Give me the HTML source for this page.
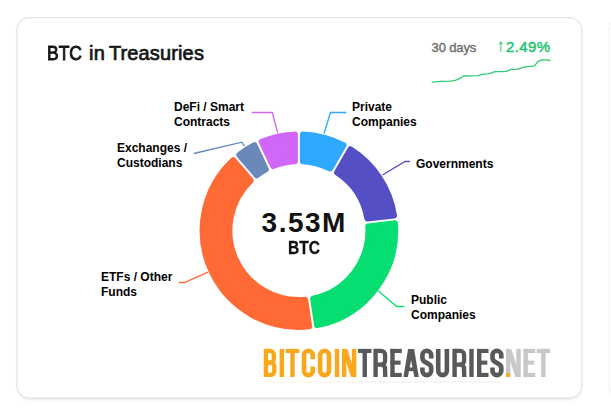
<!DOCTYPE html>
<html>
<head>
<meta charset="utf-8">
<title>BTC in Treasuries</title>
<style>
html,body{margin:0;padding:0;background:#fff;}
body{width:611px;height:416px;position:relative;overflow:hidden;font-family:"Liberation Sans",sans-serif;}
.t{position:absolute;white-space:nowrap;line-height:1;z-index:2;}
.title{top:43px;font-size:20px;color:#161616;-webkit-text-stroke:0.7px #161616;}
.days{left:431.6px;top:40.7px;font-size:13px;color:#6e6e6e;-webkit-text-stroke:0.4px #6e6e6e;letter-spacing:-0.15px;}
.pct{left:506px;top:38.8px;font-size:15px;color:#1bc470;-webkit-text-stroke:0.45px #1bc470;letter-spacing:0.42px;}
.lbl{font-weight:bold;font-size:12px;line-height:15px;color:#000;}
.big{left:261.6px;top:209.2px;font-size:28px;font-weight:bold;color:#111;letter-spacing:1.5px;}
.btc{left:288px;top:240.2px;font-size:17.5px;font-weight:bold;color:#111;-webkit-text-stroke:0.3px #111;transform-origin:0 0;transform:scaleX(0.885);}
svg{position:absolute;left:0;top:0;}
</style>
</head>
<body>
<div class="t title" style="left:46.9px;transform-origin:0 0;transform:scaleX(0.875);-webkit-text-stroke-width:0.95px">BTC</div>
<div class="t title" style="left:88.9px;letter-spacing:0.3px">in</div>
<div class="t title" style="left:108.9px;letter-spacing:0.14px">Treasuries</div>
<div class="t days">30 days</div>
<div class="t pct">2.49%</div>

<svg width="611" height="416" viewBox="0 0 611 416">
<defs><filter id="sh" x="-5%" y="-5%" width="110%" height="112%"><feGaussianBlur stdDeviation="1.6"/></filter></defs>
<rect x="17.4" y="19.6" width="564" height="380" rx="12.5" fill="#000" opacity="0.09" filter="url(#sh)"/>
<rect x="16.9" y="17.6" width="565" height="380.5" rx="12.5" fill="#fff" stroke="#e4e4e4" stroke-width="1.15"/>
<rect x="609" y="17.6" width="100" height="380.5" rx="12.5" fill="#fff" stroke="#f0f0f0" stroke-width="1.1"/>
<polyline points="432.2,82.1 440.6,81.4 451,81.2 455.2,80.4 459.4,78.7 463.6,76.0 469.9,75.8 478.3,75.6 482.9,74.1 487.7,73.9 490.9,73.1 495,71.6 501.3,71.6 506.6,71.4 510.8,69.3 518.1,69.1 522.3,67.6 526.5,66.6 533.8,66.2 535.9,64.1 538,61.3 542.2,59.9 546.4,59.9 550.1,60.5" fill="none" stroke="#2ecc71" stroke-width="1.3" stroke-linejoin="round" stroke-linecap="round"/>
<path d="M302.90 134.38A96.30 96.30 0 0 1 343.54 145.27L330.13 168.51A69.50 69.50 0 0 0 302.90 161.22Z" fill="#2EA9FF" stroke="#2EA9FF" stroke-width="6.0" stroke-linejoin="round"/>
<path d="M350.47 149.27A96.30 96.30 0 0 1 393.99 215.40L367.34 218.53A69.50 69.50 0 0 0 337.06 172.51Z" fill="#544FC5" stroke="#544FC5" stroke-width="6.0" stroke-linejoin="round"/>
<path d="M394.93 223.35A96.30 96.30 0 0 1 317.08 325.17L313.11 298.63A69.50 69.50 0 0 0 368.28 226.48Z" fill="#06DE72" stroke="#06DE72" stroke-width="6.0" stroke-linejoin="round"/>
<path d="M309.17 326.35A96.30 96.30 0 0 1 233.25 160.15L250.71 180.52A69.50 69.50 0 0 0 305.20 299.81Z" fill="#FF6A35" stroke="#FF6A35" stroke-width="6.0" stroke-linejoin="round"/>
<path d="M239.32 154.94A96.30 96.30 0 0 1 254.46 145.17L265.84 169.46A69.50 69.50 0 0 0 256.78 175.32Z" fill="#6A88BA" stroke="#6A88BA" stroke-width="6.0" stroke-linejoin="round"/>
<path d="M261.71 141.77A96.30 96.30 0 0 1 294.90 134.38L294.90 161.22A69.50 69.50 0 0 0 273.09 166.07Z" fill="#D166FA" stroke="#D166FA" stroke-width="6.0" stroke-linejoin="round"/>
<path d="M500.8 51.7V42M499.2 44.2L500.8 41.9L502.4 44.2" fill="none" stroke="#4fd093" stroke-width="1.15"/>
<g fill="none" stroke-width="1.35">
<polyline points="324.05,133.5 330.5,112.5 346.3,112.5" stroke="#2EA9FF"/>
<polyline points="382.4,175 405.1,161.5 409.9,161.5" stroke="#544FC5"/>
<polyline points="378.4,290.9 396.8,306.5 404.2,306.5" stroke="#06DE72"/>
<polyline points="207.8,272.1 184.5,282.5 178.9,282.5" stroke="#FF6A35"/>
<polyline points="244.4,146.1 241.9,142.2 193.75,153.5" stroke="#6A88BA"/>
<polyline points="277.6,132.7 272.3,112.5 251.7,112.5" stroke="#D166FA"/>
</g>
<g opacity="0.09"><line x1="264" x2="356" y1="382" y2="382" stroke="#F9A71C" stroke-width="1.6" stroke-dasharray="2.2 0.9"/><line x1="358" x2="504" y1="382" y2="382" stroke="#58595B" stroke-width="1.6" stroke-dasharray="2.2 0.9"/></g>
<g id="logo">
<rect x="263.70" y="348.90" width="4.40" height="28.10" fill="#F9A71C"/><path d="M264.70 350.95L270.20 350.95A3.60 3.60 0 0 1 273.80 354.55L273.80 359.07A3.60 3.60 0 0 1 270.20 362.67L264.70 362.67" fill="none" stroke="#F9A71C" stroke-width="4.30" stroke-linejoin="round"/><path d="M264.70 362.67L270.70 362.67A3.60 3.60 0 0 1 274.30 366.27L274.30 371.35A3.60 3.60 0 0 1 270.70 374.95L264.70 374.95" fill="none" stroke="#F9A71C" stroke-width="4.30" stroke-linejoin="round"/>
<rect x="279.60" y="348.90" width="4.50" height="28.10" fill="#F9A71C"/>
<rect x="285.70" y="348.90" width="13.60" height="4.10" fill="#F9A71C"/><rect x="290.30" y="348.90" width="4.40" height="28.10" fill="#F9A71C"/>
<path d="M312.78 359.30L312.78 355.17A4.38 4.38 0 0 0 304.02 355.17L304.02 370.73A4.38 4.38 0 0 0 312.78 370.73L312.78 366.60" fill="none" stroke="#F9A71C" stroke-width="4.65" stroke-linejoin="round"/>
<path d="M328.98 355.22A4.42 4.42 0 0 0 320.12 355.22L320.12 370.68A4.42 4.42 0 0 0 328.98 370.68Z" fill="none" stroke="#F9A71C" stroke-width="4.65" stroke-linejoin="round"/>
<rect x="334.80" y="348.90" width="4.40" height="28.10" fill="#F9A71C"/>
<rect x="342.00" y="348.90" width="4.40" height="28.10" fill="#F9A71C"/><rect x="351.90" y="348.90" width="4.40" height="28.10" fill="#F9A71C"/><polygon points="342.30,348.90 347.30,348.90 356.00,377.00 351.00,377.00" fill="#F9A71C"/>
<rect x="358.00" y="348.90" width="13.50" height="4.10" fill="#58595B"/><rect x="362.55" y="348.90" width="4.40" height="28.10" fill="#58595B"/>
<rect x="373.40" y="348.90" width="4.40" height="28.10" fill="#58595B"/><path d="M374.40 350.95L381.30 350.95A3.80 3.80 0 0 1 385.10 354.75L385.10 360.84A3.80 3.80 0 0 1 381.30 364.64L374.40 364.64" fill="none" stroke="#58595B" stroke-width="4.30" stroke-linejoin="round"/><path d="M380.80 364.64A3.80 3.80 0 0 1 385.00 368.94L385.30 377.00" fill="none" stroke="#58595B" stroke-width="4.40" stroke-linejoin="round"/>
<rect x="390.30" y="348.90" width="4.40" height="28.10" fill="#58595B"/><rect x="390.30" y="348.90" width="11.50" height="4.10" fill="#58595B"/><rect x="390.30" y="372.90" width="11.50" height="4.10" fill="#58595B"/><rect x="390.30" y="360.60" width="10.30" height="4.10" fill="#58595B"/>
<polygon points="403.40,377.00 407.90,377.00 413.20,348.90 408.10,348.90" fill="#58595B"/><polygon points="418.80,377.00 414.30,377.00 409.00,348.90 414.10,348.90" fill="#58595B"/><rect x="406.40" y="367.45" width="9.40" height="3.70" fill="#58595B"/>
<path d="M431.20 358.45L431.20 355.20A4.40 4.40 0 0 0 422.40 355.20L422.40 358.17C422.40 363.67 431.20 362.23 431.20 367.73L431.20 370.70A4.40 4.40 0 0 1 422.40 370.70L422.40 367.45" fill="none" stroke="#58595B" stroke-width="4.60" stroke-linejoin="round"/>
<path d="M438.20 348.90L438.20 370.75A4.35 4.35 0 0 0 446.90 370.75L446.90 348.90" fill="none" stroke="#58595B" stroke-width="4.60" stroke-linejoin="round"/>
<rect x="452.40" y="348.90" width="4.40" height="28.10" fill="#58595B"/><path d="M453.40 350.95L460.30 350.95A3.80 3.80 0 0 1 464.10 354.75L464.10 360.84A3.80 3.80 0 0 1 460.30 364.64L453.40 364.64" fill="none" stroke="#58595B" stroke-width="4.30" stroke-linejoin="round"/><path d="M459.80 364.64A3.80 3.80 0 0 1 464.00 368.94L464.30 377.00" fill="none" stroke="#58595B" stroke-width="4.40" stroke-linejoin="round"/>
<rect x="469.30" y="348.90" width="4.40" height="28.10" fill="#58595B"/>
<rect x="477.00" y="348.90" width="4.40" height="28.10" fill="#58595B"/><rect x="477.00" y="348.90" width="11.50" height="4.10" fill="#58595B"/><rect x="477.00" y="372.90" width="11.50" height="4.10" fill="#58595B"/><rect x="477.00" y="360.60" width="10.30" height="4.10" fill="#58595B"/>
<path d="M501.30 358.45L501.30 355.20A4.40 4.40 0 0 0 492.50 355.20L492.50 358.17C492.50 363.67 501.30 362.23 501.30 367.73L501.30 370.70A4.40 4.40 0 0 1 492.50 370.70L492.50 367.45" fill="none" stroke="#58595B" stroke-width="4.60" stroke-linejoin="round"/>
<rect x="506.00" y="348.90" width="4.40" height="28.10" fill="#C8C8C8"/><rect x="516.30" y="348.90" width="4.40" height="28.10" fill="#C8C8C8"/><polygon points="506.30,348.90 511.30,348.90 520.40,377.00 515.40,377.00" fill="#C8C8C8"/>
<rect x="523.50" y="348.90" width="4.40" height="28.10" fill="#C8C8C8"/><rect x="523.50" y="348.90" width="11.80" height="4.10" fill="#C8C8C8"/><rect x="523.50" y="372.90" width="11.80" height="4.10" fill="#C8C8C8"/><rect x="523.50" y="360.60" width="10.60" height="4.10" fill="#C8C8C8"/>
<rect x="536.70" y="348.90" width="13.30" height="4.10" fill="#C8C8C8"/><rect x="541.15" y="348.90" width="4.40" height="28.10" fill="#C8C8C8"/>
<rect x="506.00" y="373.30" width="4.10" height="3.70" fill="#F9A71C"/>
</g>
</svg>

<div class="t lbl" style="left:174px;top:100px;">DeFi / Smart<br>Contracts</div>
<div class="t lbl" style="left:117px;top:141px;">Exchanges /<br>Custodians</div>
<div class="t lbl" style="left:352px;top:100px;">Private<br>Companies</div>
<div class="t lbl" style="left:416px;top:157px;">Governments</div>
<div class="t lbl" style="left:411px;top:293px;">Public<br>Companies</div>
<div class="t lbl" style="left:101px;top:270px;">ETFs / Other<br>Funds</div>

<div class="t big">3.53M</div>
<div class="t btc">BTC</div>

</body>
</html>
